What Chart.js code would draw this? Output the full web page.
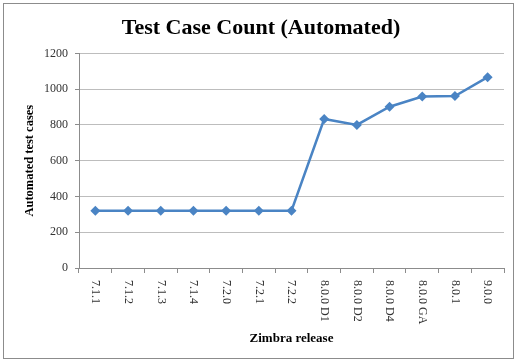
<!DOCTYPE html>
<html>
<head>
<meta charset="utf-8">
<script src="https://cdn.jsdelivr.net/npm/chart.js@4/dist/chart.umd.min.js"></script>
<style>
  html, body { margin: 0; padding: 0; background: #fff; }
  #wrap { position: relative; width: 529px; height: 363px; }
  #frame {
    position: absolute; left: 3px; top: 3px; width: 509px; height: 354px;
    border: 1px solid #8c8c8c; pointer-events: none;
  }
</style>
</head>
<body>
<div id="wrap">
  <canvas id="chart" width="529" height="363"></canvas>
  <div id="frame"></div>
</div>
<script>
// dados do gráfico
const releases = ["7.1.1", "7.1.2", "7.1.3", "7.1.4", "7.2.0", "7.2.1", "7.2.2",
  "8.0.0 D1", "8.0.0 D2", "8.0.0 D4", "8.0.0 GA", "8.0.1", "9.0.0"];
const automatedCounts = [320, 320, 320, 320, 320, 320, 320, 833, 800, 902, 959, 962, 1067];
const yTicks = [0, 200, 400, 600, 800, 1000, 1200];

const serif = "'Liberation Serif', 'DejaVu Serif', serif";

// rótulos do eixo x girados 90° (lendo de cima para baixo)
const xLabelPlugin = {
  id: "xLabels",
  afterDraw(chart) {
    const scale = chart.scales.x;
    const ctx = chart.ctx;
    ctx.save();
    ctx.font = "12px " + serif;
    ctx.fillStyle = "#333";
    ctx.textAlign = "left";
    ctx.textBaseline = "middle";
    releases.forEach(function (label, i) {
      const x = scale.getPixelForTick(i);
      ctx.save();
      ctx.translate(x, scale.top + 12);
      ctx.rotate(Math.PI / 2);
      ctx.fillText(label, 0, 0);
      ctx.restore();
    });
    ctx.restore();
  }
};

new Chart(document.getElementById("chart"), {
  type: "line",
  data: {
    labels: releases,
    datasets: [{
      label: "Automated",
      data: automatedCounts,
      borderColor: "#4a84c4",
      backgroundColor: "#4a84c4",
      borderWidth: 2.5,
      pointStyle: "rectRot",
      pointRadius: 5,
      pointBorderWidth: 0,
      tension: 0
    }]
  },
  options: {
    responsive: false,
    animation: false,
    layout: { padding: { left: 18, right: 25, top: 0, bottom: 0 } },
    plugins: {
      legend: { display: false },
      tooltip: { enabled: false },
      title: {
        display: true,
        text: "Test Case Count (Automated)",
        color: "#000",
        font: { family: serif, size: 22, weight: "bold" },
        padding: { top: 15, bottom: 12 }
      }
    },
    scales: {
      x: {
        offset: true,
        afterFit(scale) { scale.height = 95; },
        grid: {
          offset: true,
          drawOnChartArea: false,
          drawTicks: true,
          tickLength: 5,
          color: "#8c8c8c"
        },
        border: { color: "#8c8c8c", width: 1 },
        ticks: { display: false },
        title: {
          display: true,
          text: "Zimbra release",
          color: "#000",
          font: { family: serif, size: 13, weight: "bold" },
          padding: { top: 0, bottom: 17 }
        }
      },
      y: {
        min: 0,
        max: 1200,
        afterFit(scale) { scale.width = 61; },
        afterBuildTicks(scale) { scale.ticks = yTicks.map(v => ({ value: v })); },
        grid: {
          color: "#bdbdbd",
          tickLength: 4,
          tickColor: "#8c8c8c"
        },
        border: { color: "#8c8c8c", width: 1 },
        ticks: {
          color: "#333",
          padding: 7,
          font: { family: serif, size: 12 },
          callback: function (value) { return String(value); }
        },
        title: {
          display: true,
          text: "Automated test cases",
          color: "#000",
          font: { family: serif, size: 12.5, weight: "bold" },
          padding: { top: 4, bottom: 0 }
        }
      }
    }
  },
  plugins: [xLabelPlugin]
});
</script>
</body>
</html>
